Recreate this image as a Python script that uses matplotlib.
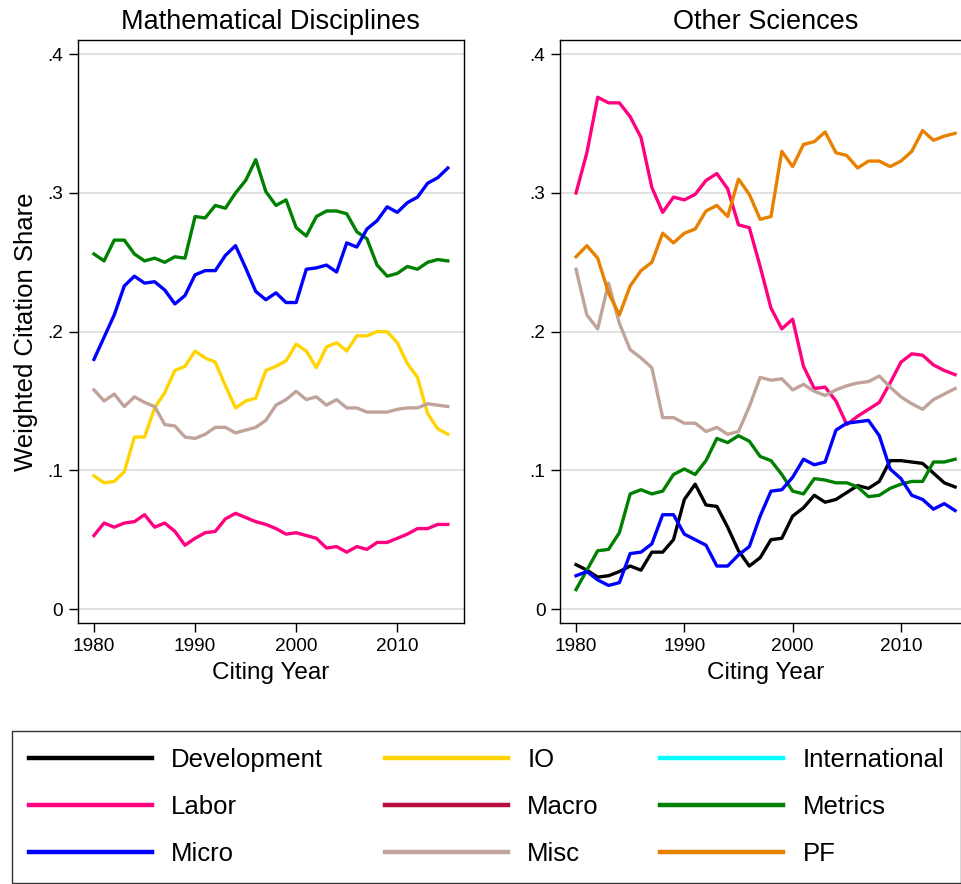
import numpy as np
import matplotlib
matplotlib.use("Agg")
import matplotlib.pyplot as plt

plt.rcParams['font.family'] = ['Liberation Sans', 'DejaVu Sans']

years = np.arange(1980, 2016)

# Mathematical Disciplines
math_labor = [0.053, 0.062, 0.059, 0.062, 0.063, 0.068, 0.059, 0.062, 0.056, 0.046, 0.051, 0.055,
              0.056, 0.065, 0.069, 0.066, 0.063, 0.061, 0.058, 0.054, 0.055, 0.053, 0.051, 0.044,
              0.045, 0.041, 0.045, 0.043, 0.048, 0.048, 0.051, 0.054, 0.058, 0.058, 0.061, 0.061]
math_micro = [0.180, 0.196, 0.212, 0.233, 0.240, 0.235, 0.236, 0.230, 0.220, 0.226, 0.241, 0.244,
              0.244, 0.255, 0.262, 0.246, 0.229, 0.223, 0.228, 0.221, 0.221, 0.245, 0.246, 0.248,
              0.243, 0.264, 0.261, 0.274, 0.280, 0.290, 0.286, 0.293, 0.297, 0.307, 0.311, 0.318]
math_io = [0.096, 0.091, 0.092, 0.099, 0.124, 0.124, 0.145, 0.156, 0.172, 0.175, 0.186, 0.181,
           0.178, 0.161, 0.145, 0.150, 0.152, 0.172, 0.175, 0.179, 0.191, 0.186, 0.174, 0.189,
           0.192, 0.186, 0.197, 0.197, 0.200, 0.200, 0.192, 0.177, 0.167, 0.141, 0.130, 0.126]
math_misc = [0.158, 0.150, 0.155, 0.146, 0.153, 0.149, 0.146, 0.133, 0.132, 0.124, 0.123, 0.126,
             0.131, 0.131, 0.127, 0.129, 0.131, 0.136, 0.147, 0.151, 0.157, 0.151, 0.153, 0.147,
             0.151, 0.145, 0.145, 0.142, 0.142, 0.142, 0.144, 0.145, 0.145, 0.148, 0.147, 0.146]
math_metrics = [0.256, 0.251, 0.266, 0.266, 0.256, 0.251, 0.253, 0.250, 0.254, 0.253, 0.283, 0.282,
                0.291, 0.289, 0.300, 0.309, 0.324, 0.301, 0.291, 0.295, 0.275, 0.269, 0.283, 0.287,
                0.287, 0.285, 0.272, 0.267, 0.248, 0.240, 0.242, 0.247, 0.245, 0.250, 0.252, 0.251]

# Other Sciences
oth_development = [0.032, 0.028, 0.023, 0.024, 0.027, 0.031, 0.028, 0.041, 0.041, 0.050, 0.079, 0.090,
                   0.075, 0.074, 0.059, 0.042, 0.031, 0.037, 0.050, 0.051, 0.067, 0.073, 0.082, 0.077,
                   0.079, 0.084, 0.089, 0.087, 0.092, 0.107, 0.107, 0.106, 0.105, 0.098, 0.091, 0.088]
oth_labor = [0.300, 0.329, 0.369, 0.365, 0.365, 0.355, 0.340, 0.304, 0.286, 0.297, 0.295, 0.299,
             0.309, 0.314, 0.303, 0.277, 0.275, 0.247, 0.217, 0.202, 0.209, 0.175, 0.159, 0.160,
             0.150, 0.133, 0.139, 0.144, 0.149, 0.163, 0.178, 0.184, 0.183, 0.176, 0.172, 0.169]
oth_metrics = [0.014, 0.028, 0.042, 0.043, 0.055, 0.083, 0.086, 0.083, 0.085, 0.097, 0.101, 0.097,
               0.107, 0.123, 0.120, 0.125, 0.121, 0.110, 0.107, 0.097, 0.085, 0.083, 0.094, 0.093,
               0.091, 0.091, 0.088, 0.081, 0.082, 0.087, 0.090, 0.092, 0.092, 0.106, 0.106, 0.108]
oth_micro = [0.024, 0.027, 0.021, 0.017, 0.019, 0.040, 0.041, 0.047, 0.068, 0.068, 0.054, 0.050,
             0.046, 0.031, 0.031, 0.039, 0.045, 0.067, 0.085, 0.086, 0.095, 0.108, 0.104, 0.106,
             0.129, 0.134, 0.135, 0.136, 0.125, 0.101, 0.094, 0.082, 0.079, 0.072, 0.076, 0.071]
oth_misc = [0.245, 0.212, 0.202, 0.235, 0.206, 0.187, 0.181, 0.174, 0.138, 0.138, 0.134, 0.134,
            0.128, 0.131, 0.126, 0.128, 0.146, 0.167, 0.165, 0.166, 0.158, 0.162, 0.157, 0.154,
            0.158, 0.161, 0.163, 0.164, 0.168, 0.160, 0.153, 0.148, 0.144, 0.151, 0.155, 0.159]
oth_pf = [0.254, 0.262, 0.253, 0.228, 0.212, 0.233, 0.244, 0.250, 0.271, 0.264, 0.271, 0.274,
          0.287, 0.291, 0.283, 0.310, 0.299, 0.281, 0.283, 0.330, 0.319, 0.335, 0.337, 0.344,
          0.329, 0.327, 0.318, 0.323, 0.323, 0.319, 0.323, 0.330, 0.345, 0.338, 0.341, 0.343]

colors = {
    'Development': '#000000',
    'IO': '#ffd400',
    'International': '#00ffff',
    'Labor': '#ff0080',
    'Macro': '#b80c3c',
    'Metrics': '#008000',
    'Micro': '#0000ff',
    'Misc': '#c0a49c',
    'PF': '#e88000',
}
legend_order = ['Development', 'Labor', 'Micro', 'IO', 'Macro', 'Misc',
                'International', 'Metrics', 'PF']

panels = [
    ('Mathematical Disciplines', {'IO': math_io, 'Labor': math_labor, 'Metrics': math_metrics,
                                  'Micro': math_micro, 'Misc': math_misc}),
    ('Other Sciences', {'Development': oth_development, 'Labor': oth_labor, 'Metrics': oth_metrics,
                        'Micro': oth_micro, 'Misc': oth_misc, 'PF': oth_pf}),
]

W, H = 962, 884
fig = plt.figure(figsize=(W / 100, H / 100), dpi=100)
ax1 = fig.add_axes([77.7 / W, 1 - 623.3 / H, (464 - 77.7) / W, (623.3 - 40) / H])
ax2 = fig.add_axes([560 / W, 1 - 623.3 / H, 412 / W, (623.3 - 40) / H])
xlims = [(1978.39, 2016.6), (1978.52, 2016.56)]

lw = 2.4
for ax, (title, series), xl in zip([ax1, ax2], panels, xlims):
    for name in ['Development', 'IO', 'International', 'Labor', 'Macro',
                 'Metrics', 'Micro', 'Misc', 'PF']:
        if name in series:
            ax.plot(years, series[name], color=colors[name], lw=lw, zorder=3)
    ax.set_xlim(*xl)
    ax.set_ylim(-0.0103, 0.4103)
    ax.set_yticks([0, 0.1, 0.2, 0.3, 0.4], labels=['0', '.1', '.2', '.3', '.4'])
    ax.set_xticks([1980, 1990, 2000, 2010])
    ax.grid(axis='y', color='#dcdcdc', lw=1.2, zorder=1)
    ax.tick_params(direction='out', length=6.5, width=1.0, labelsize=13.7, pad=4)
    for s in ax.spines.values():
        s.set_linewidth(1.0)
    ax.set_title(title, fontsize=19.5, pad=8)
    ax.set_xlabel('Citing Year', fontsize=17.5, labelpad=5)

ax1.set_ylabel('Weighted Citation Share', fontsize=18.5, labelpad=7)

handles = []
for name in legend_order:
    h, = ax1.plot([], [], color=colors[name], lw=3.2, label=name)
    handles.append(h)

leg = fig.legend(handles=handles, labels=legend_order, ncol=3, loc='lower left',
                 bbox_to_anchor=(12 / W, 1 - 883 / H, 949 / W, 155 / H), mode='expand',
                 fontsize=18.5, handlelength=4.8, handletextpad=0.75, labelspacing=0.9,
                 borderpad=0.65, borderaxespad=0, fancybox=False, frameon=True)
leg.get_frame().set_edgecolor('black')
leg.get_frame().set_linewidth(1.0)

fig.savefig('out.png', dpi=100)
